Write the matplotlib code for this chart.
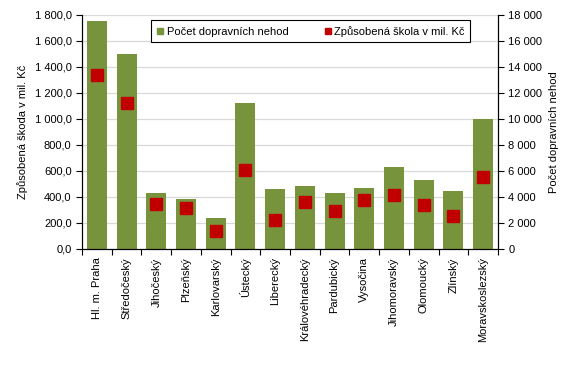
import matplotlib.pyplot as plt
import numpy as np
from matplotlib.lines import Line2D
from matplotlib.ticker import FuncFormatter

plt.rcParams['font.family'] = ['Liberation Sans', 'DejaVu Sans']

# kraje
kraje = ['Hl. m. Praha', 'Středočeský', 'Jihočeský', 'Plzeňský', 'Karlovarský',
         'Ústecký', 'Liberecký', 'Královéhradecký', 'Pardubický', 'Vysočina',
         'Jihomoravský', 'Olomoucký', 'Zlínský', 'Moravskoslezský']

# počet dopravních nehod (pravá osa)
nehody = [17500, 15000, 4300, 3850, 2400, 11250, 4600, 4850, 4300, 4700,
          6300, 5300, 4450, 10000]

# způsobená škoda v mil. Kč (levá osa)
skoda = [1336, 1126, 350, 313, 140, 608, 224, 362, 292, 376,
         412, 338, 252, 552]

green = '#77933C'
red = '#C00000'
fs = 8

fig = plt.figure(figsize=(5.74, 3.74), dpi=100)
ax = fig.add_axes([82 / 574, 1 - 249 / 374, 416 / 574, 234 / 374])
ax2 = ax.twinx()

x = np.arange(len(kraje))

# bars on the right axis, markers on the left axis
ax2.bar(x, nehody, width=0.67, color=green, zorder=2)
ax.plot(x, skoda, linestyle='none', marker='s', markersize=8.5,
        color=red, zorder=3)

ax.set_zorder(ax2.get_zorder() + 1)
ax.patch.set_visible(False)

ax.set_xlim(-0.5, len(kraje) - 0.5)
ax.set_ylim(0, 1800)
ax2.set_ylim(0, 18000)
ax.set_yticks(np.arange(0, 1801, 200))
ax2.set_yticks(np.arange(0, 18001, 2000))

ax.yaxis.set_major_formatter(FuncFormatter(
    lambda v, p: f'{v:,.1f}'.replace(',', ' ').replace('.', ',')))
ax2.yaxis.set_major_formatter(FuncFormatter(
    lambda v, p: f'{v:,.0f}'.replace(',', ' ')))

ax2.yaxis.grid(True, color='#D9D9D9', linewidth=0.9, zorder=0)
ax2.set_axisbelow(True)

# category labels at centres, tick marks between categories
ax.set_xticks(x)
ax.set_xticklabels(kraje, rotation=90)
ax.set_xticks(np.arange(-0.5, len(kraje)), minor=True)
ax.tick_params(axis='x', which='major', length=0, pad=6)
ax.tick_params(axis='x', which='minor', length=4, width=0.8, direction='out')
ax.tick_params(axis='y', length=4, width=0.8, direction='out')
ax2.tick_params(axis='y', length=4, width=0.8, direction='out')
ax.tick_params(labelsize=fs)
ax2.tick_params(labelsize=fs)

for a in (ax, ax2):
    a.spines['top'].set_visible(False)
    for s in ('left', 'right', 'bottom'):
        a.spines[s].set_linewidth(0.8)

ax.set_ylabel('Způsobená škoda v mil. Kč', fontsize=fs, labelpad=5)
ax2.set_ylabel('Počet dopravních nehod', fontsize=fs, labelpad=5)

handles = [
    Line2D([], [], linestyle='none', marker='s', markersize=4.5, color=green),
    Line2D([], [], linestyle='none', marker='s', markersize=4.5, color=red),
]
leg = ax.legend(handles, ['Počet dopravních nehod', 'Způsobená škola v mil. Kč'],
                loc='upper center', bbox_to_anchor=(0.55, 0.978), ncol=2,
                fontsize=fs, frameon=True, fancybox=False, framealpha=1,
                edgecolor='black', handlelength=0.6, handletextpad=0.3,
                columnspacing=3.2, borderpad=0.5, borderaxespad=0)
leg.get_frame().set_linewidth(0.8)

fig.savefig('out.png', dpi=100)
